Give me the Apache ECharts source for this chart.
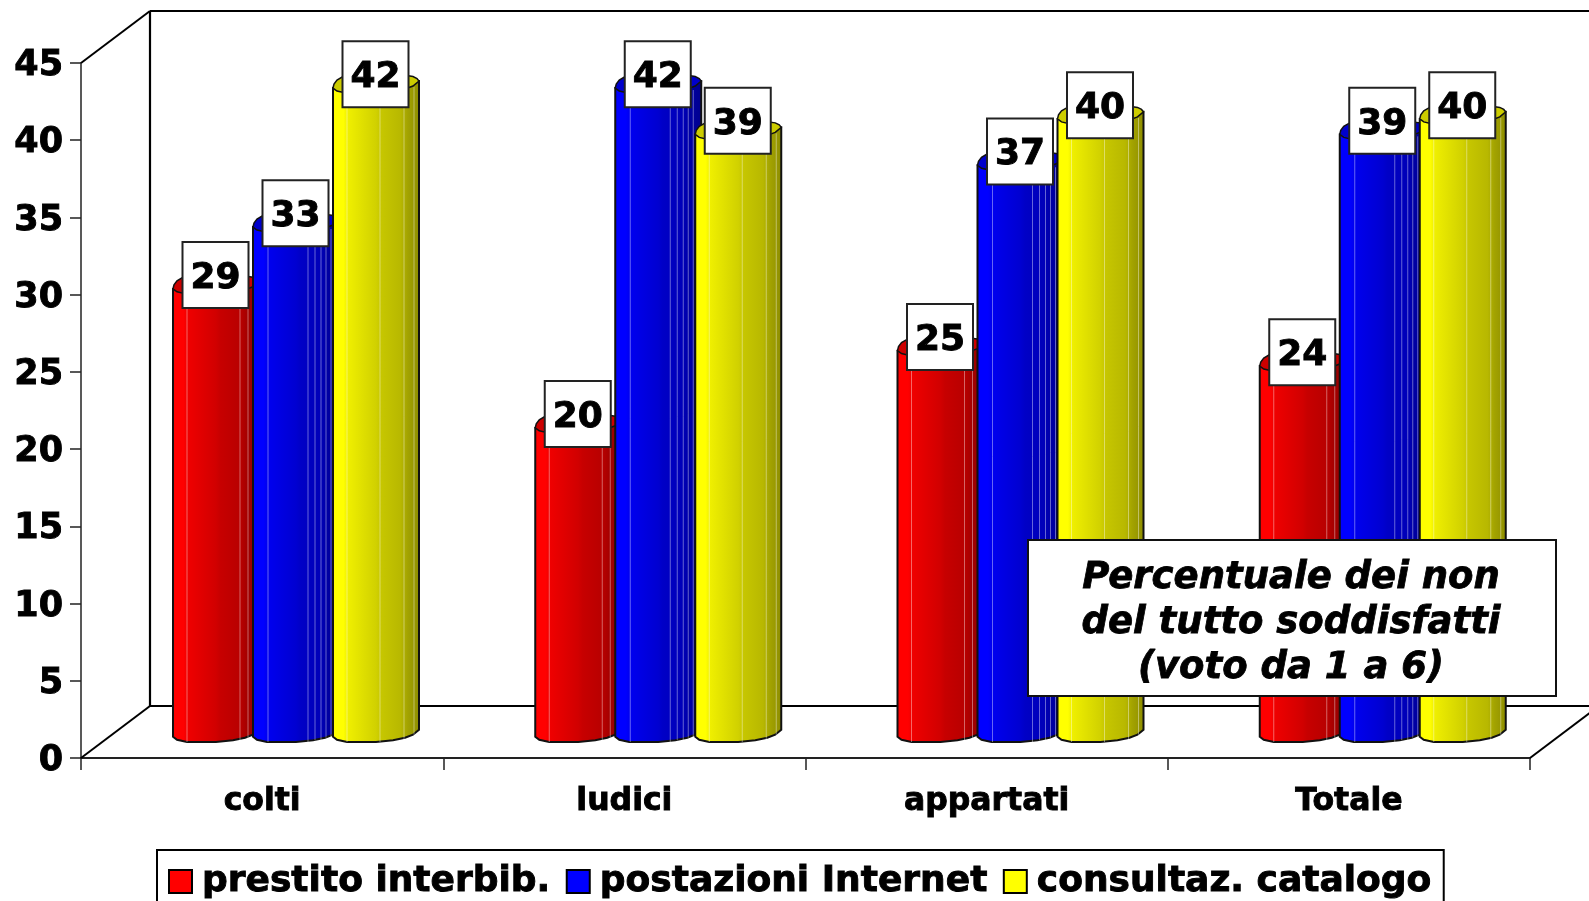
<!DOCTYPE html>
<html>
<head>
<meta charset="utf-8">
<style>
  html, body { margin: 0; padding: 0; background: #fff; overflow: hidden; }
  #chart { width: 1589px; height: 901px; }
</style>
<script src="https://cdn.jsdelivr.net/npm/echarts@6/dist/echarts.min.js"></script>
</head>
<body>
<div id="chart"></div>
<script>
const categories = ["colti", "ludici", "appartati", "Totale"];
const seriesNames = ["prestito interbib.", "postazioni Internet", "consultaz. catalogo"];
const prestito = [29, 20, 25, 24];
const postazioni = [33, 42, 37, 39];
const consultaz = [42, 39, 40, 40];
const noteLines = ["Percentuale dei non", "del tutto soddisfatti", "(voto da 1 a 6)"];

const FONT = '"DejaVu Sans", Verdana, sans-serif';
const heavy = { textBorderColor: "#000", textBorderWidth: 0.9 }; // reference font is heavier than DejaVu Bold
const colors = [[255, 0, 0], [0, 0, 255], [255, 255, 0]];
const depthX = 69, depthY = 52; // 3d box depth
const baseLift = 21.3; // columns stand on the floor, above the value axis
const groupStart = 92, colStep = 80;

// shade steps across the cylinder, left to right
const shades = [[0, 1], [0.13, 1], [0.17, 0.94], [0.5, 0.82], [0.55, 0.78], [0.78, 0.72], [0.86, 0.64], [1, 0.55]];
function rgb(c, f) {
  return "rgb(" + c.map((v) => Math.round(v * f)).join(",") + ")";
}

// outline of the front rim, from the left edge to the right edge
const rim = [[0, 0], [4, 3], [14, 5.3], [43, 5.3], [60, 3.5], [72, 1], [80, -2], [86, -7]];
const back = [[84, -9.5], [80, -11.5], [72, -12.7], [60, -13], [18, -13], [10, -11.5], [4, -8], [1, -4]];
const facets = [[14, 67, 75], [15, 55, 62, 68, 73, 78], [14, 47, 71, 81]];

function cylinder(seriesIndex) {
  return function (params, api) {
    const cat = api.value(0), val = api.value(1);
    const band = api.size([1, 0])[0];
    const foot = api.coord([cat, 0]);
    const left = foot[0] - band / 2 + groupStart + seriesIndex * colStep;
    const yB = foot[1] - baseLift;
    const yT = api.coord([cat, val])[1] - baseLift;
    const c = colors[seriesIndex];
    const grad = new echarts.graphic.LinearGradient(0, 0, 1, 0,
      shades.map((s) => ({ offset: s[0], color: rgb(c, s[1]) })));

    const body = rim.map((p) => [left + p[0], yB + p[1]]);
    body.push([left + 86, yT - 7], [left, yT]);
    const top = rim.concat(back).map((p) => [left + p[0], yT + p[1]]);

    const children = [
      { type: "polygon", shape: { points: body }, style: { fill: grad, stroke: "#111", lineWidth: 2 } },
      { type: "polygon", shape: { points: top }, style: { fill: rgb(c, 0.8), stroke: "#111", lineWidth: 1.5 } }
    ];
    facets[seriesIndex].forEach((f) => {
      const dy = rim.reduce((acc, p) => (p[0] <= f ? p[1] : acc), 0);
      children.push({
        type: "line",
        shape: { x1: left + f, y1: yT + dy + 1, x2: left + f, y2: yB + dy },
        style: { stroke: "rgba(255,255,255,0.4)", lineWidth: 1 }
      });
    });
    // value box sits over the top of the column
    const cx = left + 42.5, cy = yT - 13.7;
    children.push({
      type: "rect",
      shape: { x: cx - 33, y: cy - 33, width: 66, height: 66 },
      style: { fill: "#fff", stroke: "#222", lineWidth: 2 }
    });
    children.push({
      type: "text",
      style: {
        text: String(val), x: cx, y: cy + 3.5, align: "center", verticalAlign: "middle",
        font: "bold 36px " + FONT, fill: "#000", stroke: "#000", lineWidth: 0.9
      }
    });
    return { type: "group", children: children };
  };
}

function frame(params, api) {
  const g = params.coordSys;
  const x0 = g.x, x1 = g.x + g.width, y0 = g.y + g.height, y1 = g.y;
  const seg = (a, b, c, d, w) => ({
    type: "line", shape: { x1: a, y1: b, x2: c, y2: d },
    style: { stroke: "#000", lineWidth: w }
  });
  return {
    type: "group",
    children: [
      seg(x0, y0, x0 + depthX, y0 - depthY, 2),
      seg(x0, y1, x0 + depthX, y1 - depthY, 2),
      seg(x0 + depthX, y1 - depthY, x0 + depthX, y0 - depthY, 2.2),
      seg(x0 + depthX, y1 - depthY, x1 + depthX, y1 - depthY, 2.2),
      seg(x0 + depthX, y0 - depthY, x1 + depthX, y0 - depthY, 2.2),
      seg(x1, y0, x1 + depthX, y0 - depthY, 2)
    ]
  };
}

const chart = echarts.init(document.getElementById("chart"), null, { renderer: "canvas" });
chart.setOption({
  animation: false,
  backgroundColor: "#fff",
  grid: { left: 81, top: 63, width: 1449, height: 695, containLabel: false },
  legend: {
    data: seriesNames,
    left: 157,
    top: 850,
    padding: [13, 12, 60, 11],
    itemWidth: 23,
    itemHeight: 23,
    itemGap: 15,
    icon: "rect",
    selectedMode: false,
    borderColor: "#000",
    borderWidth: 2,
    backgroundColor: "#fff",
    itemStyle: { borderColor: "#000", borderWidth: 2 },
    textStyle: Object.assign({ fontFamily: FONT, fontWeight: "bold", fontSize: 36, color: "#000", padding: [0, 0, 0, 5] }, heavy)
  },
  xAxis: {
    type: "category",
    data: categories,
    axisLine: { lineStyle: { color: "#222", width: 2 } },
    axisTick: { show: true, length: 12, lineStyle: { color: "#222", width: 1.5 } },
    axisLabel: Object.assign({ fontFamily: FONT, fontWeight: "bold", fontSize: 31.5, color: "#000", margin: 28 }, heavy)
  },
  yAxis: {
    type: "value",
    min: 0,
    max: 45,
    interval: 5,
    splitLine: { show: false },
    axisLine: { show: true, lineStyle: { color: "#222", width: 1.5 } },
    axisTick: { show: true, length: 11, lineStyle: { color: "#222", width: 1.5 } },
    // top + small lineHeight nudges the numbers a few px below their ticks
    axisLabel: Object.assign({ fontFamily: FONT, fontWeight: "bold", fontSize: 35, color: "#000", margin: 18, verticalAlign: "top", lineHeight: 6 }, heavy)
  },
  series: [
    { type: "custom", name: "frame", silent: true, z: 1, renderItem: frame, data: [[0, 0]] },
    { type: "custom", name: seriesNames[0], z: 2, itemStyle: { color: rgb(colors[0], 1) }, renderItem: cylinder(0), data: prestito.map((v, i) => [i, v]) },
    { type: "custom", name: seriesNames[1], z: 3, itemStyle: { color: rgb(colors[1], 1) }, renderItem: cylinder(1), data: postazioni.map((v, i) => [i, v]) },
    { type: "custom", name: seriesNames[2], z: 4, itemStyle: { color: rgb(colors[2], 1) }, renderItem: cylinder(2), data: consultaz.map((v, i) => [i, v]) }
  ],
  graphic: [
    {
      type: "rect",
      z: 100,
      shape: { x: 1028, y: 540, width: 528, height: 156 },
      style: { fill: "#fff", stroke: "#111", lineWidth: 2 }
    },
    {
      type: "text",
      z: 101,
      x: 1291,
      y: 623.5,
      style: {
        text: noteLines.join("\n"),
        align: "center",
        verticalAlign: "middle",
        lineHeight: 45,
        font: "italic bold 37px " + FONT,
        fill: "#000",
        stroke: "#000",
        lineWidth: 0.8
      }
    }
  ]
});
</script>
</body>
</html>
